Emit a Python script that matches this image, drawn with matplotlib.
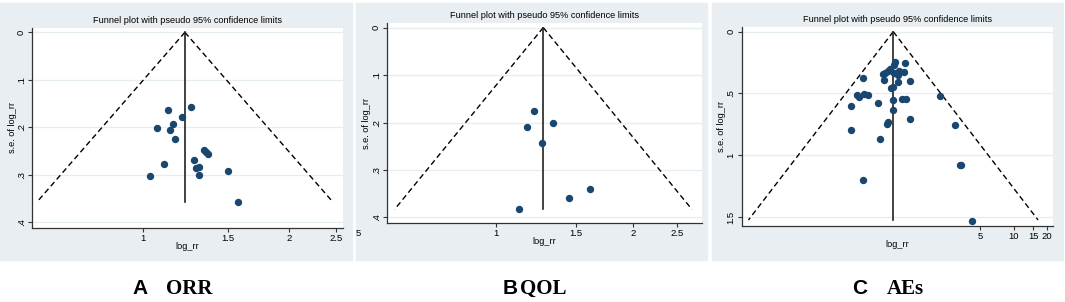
import numpy as np
import matplotlib.pyplot as plt
from matplotlib.patches import Rectangle

plt.rcParams['font.family'] = ['Liberation Sans', 'DejaVu Sans']

W, H = 1065, 302

# A: ORR  (log_rr, s.e. of log_rr)
orr_logrr = [0.118, 0.227, 0.188, 0.145, 0.068, 0.129, 0.155, 0.289, 0.300,
             0.309, 0.242, 0.100, 0.253, 0.267, 0.403, 0.268, 0.035, 0.450]
orr_se = [0.163, 0.158, 0.179, 0.193, 0.201, 0.207, 0.224, 0.248, 0.252,
          0.256, 0.269, 0.278, 0.286, 0.284, 0.292, 0.300, 0.303, 0.357]
orr_pooled = 0.20
orr_semax = 0.357

# B: QOL
qol_logrr = [0.193, 0.288, 0.157, 0.235, 0.478, 0.369, 0.116]
qol_se = [0.175, 0.201, 0.210, 0.243, 0.340, 0.360, 0.383]
qol_pooled = 0.24
qol_semax = 0.383

# C: AEs
aes_logrr = [-0.144, 0.062, -0.171, -0.247, -0.282, -0.386, -0.351, -0.056,
             0.047, -0.159, -0.082, -0.804, -0.377, 0.159, -0.089, -0.179,
             -0.227, -0.928, -0.893, -0.777, -0.707, 0.790, -1.052, -0.489,
             -0.192, -0.006, 0.076, -0.179, 0.171, -0.289, -0.315, 1.099,
             -1.052, -0.454, 1.196, 1.216, -0.804, 1.437]
aes_se = [0.243, 0.251, 0.272, 0.304, 0.316, 0.342, 0.332, 0.320,
          0.324, 0.337, 0.353, 0.375, 0.388, 0.399, 0.407, 0.450,
          0.455, 0.512, 0.526, 0.502, 0.510, 0.518, 0.604, 0.577,
          0.631, 0.542, 0.542, 0.553, 0.706, 0.731, 0.744, 0.757,
          0.793, 0.868, 1.078, 1.076, 1.200, 1.529]
aes_pooled = -0.18
aes_semax = 1.523

rr_ticks_ab = [1, 1.5, 2, 2.5]
rr_ticks_c = [5, 10, 15, 20]
se_ticks_ab = [0, 0.1, 0.2, 0.3, 0.4]
se_labels_ab = ['0', '.1', '.2', '.3', '.4']
se_ticks_c = [0, 0.5, 1, 1.5]
se_labels_c = ['0', '.5', '1', '1.5']

panel_letters = ['A', 'B', 'C']
panel_names = ['ORR', 'QOL', 'AEs']

bg = '#e8eef2'
navy = '#1a476f'
grid = '#e6edf0'

fig = plt.figure(figsize=(W / 100, H / 100), dpi=100)


def box(l, t, r, b):
    return [l / W, 1 - b / H, (r - l) / W, (b - t) / H]


# panel backgrounds (px: left, top, right, bottom)
for l, t, r, b in [(0, 3, 351.7, 260), (356, 3, 707.3, 260), (711.7, 3, 1062.7, 260)]:
    fig.patches.append(Rectangle((l / W, 1 - b / H), (r - l) / W, (b - t) / H,
                                 transform=fig.transFigure, color=bg, zorder=-10))


def funnel(ax, logrr, se, pooled, semax, rr_ticks, yt, ylabs, xlim, ylim):
    ax.set_facecolor('white')
    for y in yt:
        ax.axhline(y, color=grid, lw=0.9, zorder=0)
    s = np.array([0, semax])
    ax.plot(pooled - 1.96 * s, s, color='black', ls=(0, (4, 2.5)), lw=1.0)
    ax.plot(pooled + 1.96 * s, s, color='black', ls=(0, (4, 2.5)), lw=1.0)
    ax.plot([pooled, pooled], s, color='#222222', lw=1.2)
    ax.plot(logrr, se, 'o', color=navy, ms=4.3, mec=navy)
    ax.set_xlim(*xlim)
    ax.set_ylim(*ylim)
    ax.set_xticks(np.log(rr_ticks))
    ax.set_xticklabels([f'{v:g}' for v in rr_ticks])
    ax.set_yticks(yt)
    ax.set_yticklabels(ylabs, rotation=90, va='center')
    for sp in ['top', 'right']:
        ax.spines[sp].set_visible(False)
    for sp in ['left', 'bottom']:
        ax.spines[sp].set_color('#333333')
        ax.spines[sp].set_linewidth(0.9)
    ax.tick_params(length=3, width=0.8, color='#333333', labelsize=6.8, pad=1.5)
    ax.text(0.5, -0.093, 'log_rr', transform=ax.transAxes, ha='center',
            va='center', fontsize=6.6)
    ax.text(-0.064, 0.5, 's.e. of log_rr', transform=ax.transAxes, ha='center',
            va='center', rotation=90, fontsize=6.6)
    ax.annotate('Funnel plot with pseudo 95% confidence limits', xy=(0.5, 1),
                xycoords='axes fraction', xytext=(0, 5.4), textcoords='offset points',
                ha='center', va='center', fontsize=6.6)


axA = fig.add_axes(box(32, 27.6, 343.3, 228))
funnel(axA, orr_logrr, orr_se, orr_pooled, orr_semax, rr_ticks_ab,
       se_ticks_ab, se_labels_ab, (-0.525, 0.951), (0.4127, -0.01))

axB = fig.add_axes(box(387, 23.3, 701.7, 222.7))
funnel(axB, qol_logrr, qol_se, qol_pooled, qol_semax, rr_ticks_ab,
       se_ticks_ab, se_labels_ab, (-0.549, 1.04), (0.411, -0.009))
axB.text(np.log(0.5), -0.055, '5', transform=axB.get_xaxis_transform(),
         ha='center', va='center', fontsize=6.8, clip_on=False)

axC = fig.add_axes(box(741.7, 26.7, 1053.3, 226))
funnel(axC, aes_logrr, aes_se, aes_pooled, aes_semax, rr_ticks_c,
       se_ticks_c, se_labels_c, (-3.305, 3.12), (1.572, -0.04))

# panel captions
yc = 1 - 288.5 / H
for letter, name, xl, xn in zip(panel_letters, panel_names,
                                [132.5, 502.7, 852.6], [166.4, 519.7, 886.5]):
    fig.text(xl / W, yc, letter, ha='left', va='center', fontsize=15,
             fontweight='bold', family=['Liberation Sans'])
    fig.text(xn / W, yc, name, ha='left', va='center', fontsize=15,
             fontweight='bold', family=['Liberation Serif'])

fig.savefig('out.png', dpi=100)
